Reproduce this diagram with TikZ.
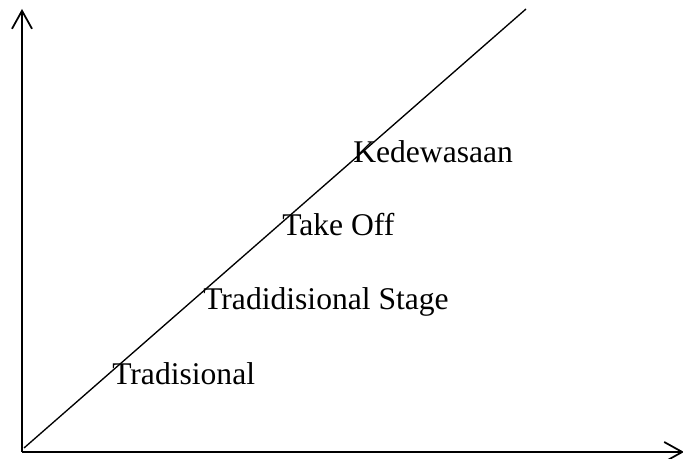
\documentclass[tikz,border=0pt]{standalone}
\usepackage{fontspec}
\setmainfont{Liberation Serif}
\usetikzlibrary{arrows.meta}
\begin{document}
\begin{tikzpicture}[x=0.75pt,y=-0.75pt,
  axis/.style={line width=1.6pt,-{Straight Barb[length=13.5pt,width=15pt,line width=1.3pt]}},
  diag/.style={line width=1pt},
  lbl/.style={anchor=base west,inner sep=0pt,font=\fontsize{23.7pt}{28pt}\selectfont}]
\useasboundingbox (0,0) rectangle (683,459);
\coordinate (o) at (22,452);
\coordinate (ytip) at (22,9);
\coordinate (xtip) at (684,452);
\coordinate (dstart) at (24,448);
\coordinate (dend) at (526,9);
\draw[axis] (o) -- (ytip);
\draw[axis] (o) -- (xtip);
\draw[diag] (dstart) -- (dend);
\node[lbl] (t1) at (112,385) {Tradisional};
\node[lbl] (t2) at (203,310) {Tradidisional Stage};
\node[lbl] (t3) at (282,236) {Take Off};
\node[lbl] (t4) at (353,163) {Kedewasaan};
\end{tikzpicture}
\end{document}
